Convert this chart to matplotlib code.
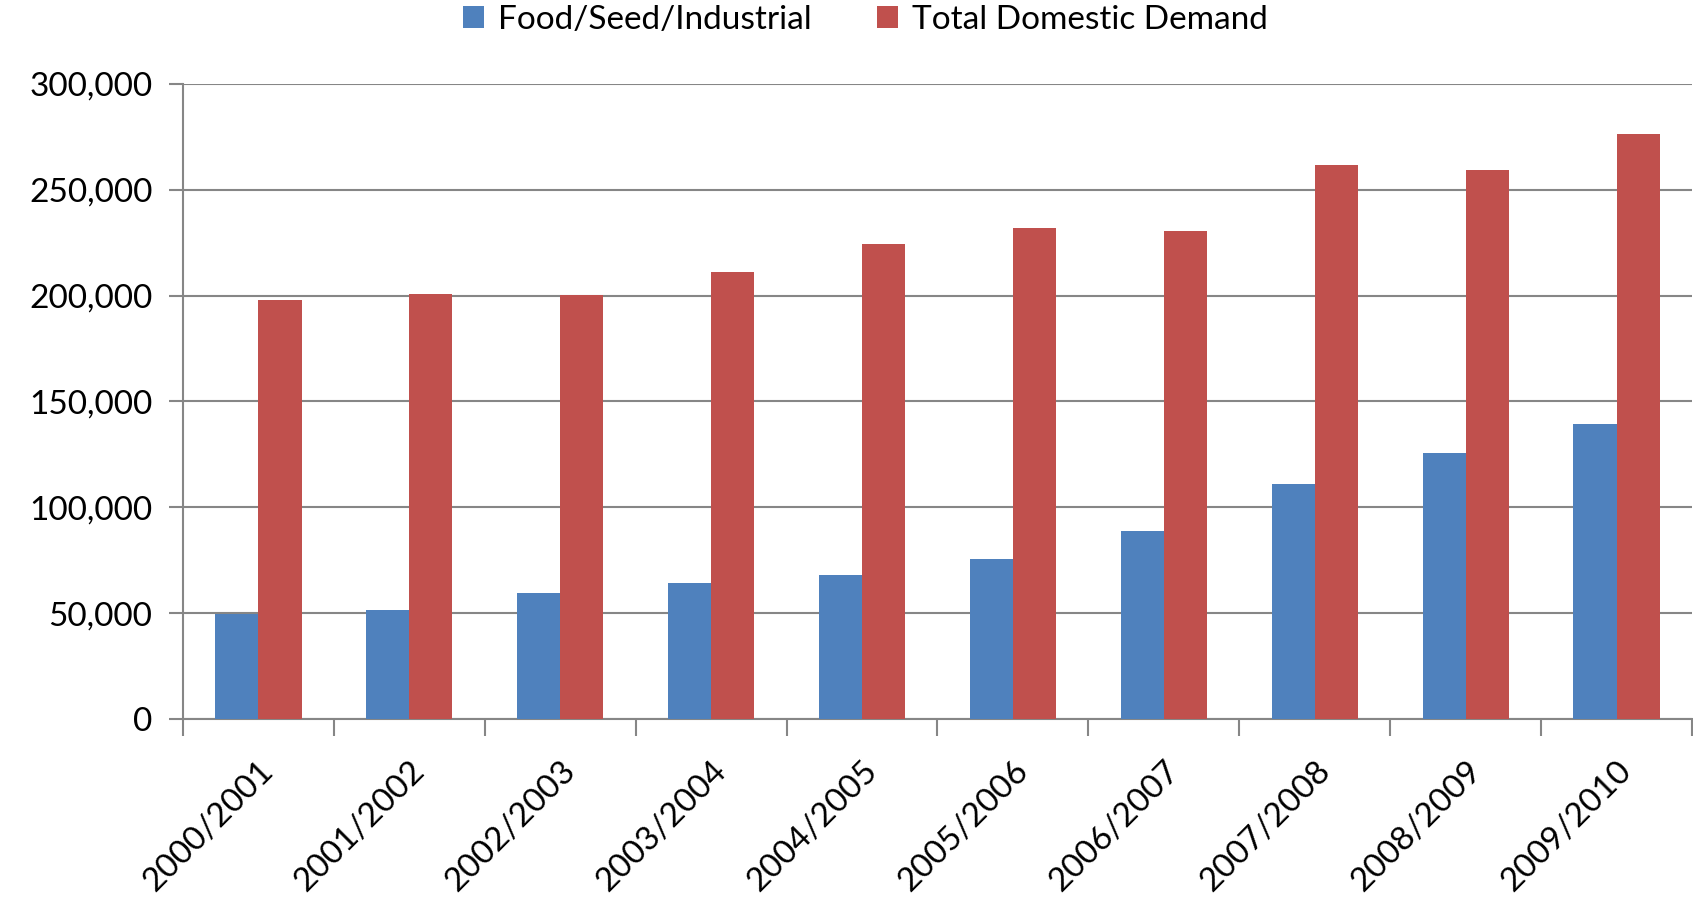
import matplotlib
matplotlib.use("Agg")
import matplotlib.pyplot as plt
import numpy as np
from matplotlib.ticker import FuncFormatter, FixedLocator

plt.rcParams['font.family'] = ['Lato', 'DejaVu Sans']

years = ["2000/2001", "2001/2002", "2002/2003", "2003/2004", "2004/2005",
         "2005/2006", "2006/2007", "2007/2008", "2008/2009", "2009/2010"]
food_seed_industrial = [49700, 51600, 59400, 64300, 68100,
                        75500, 88600, 111200, 125700, 139300]
total_domestic = [198000, 200600, 200500, 211400, 224500,
                  231900, 230700, 261500, 259200, 276300]
series_names = ["Food/Seed/Industrial", "Total Domestic Demand"]
colors = ["#4F81BD", "#C0504D"]

fig = plt.figure(figsize=(16.93, 8.98), dpi=100)
ax = fig.add_axes([0.1081, 0.1993, 0.8913, 0.7072])

x = np.arange(len(years))
w = 0.2857
ax.bar(x - w / 2, food_seed_industrial, width=w, color=colors[0], label=series_names[0], zorder=3)
ax.bar(x + w / 2, total_domestic, width=w, color=colors[1], label=series_names[1], zorder=3)

ax.set_xlim(-0.5, len(years) - 0.5)
ax.set_ylim(0, 300000)
ax.set_yticks(np.arange(0, 300001, 50000))
ax.yaxis.set_major_formatter(FuncFormatter(lambda v, p: f"{int(v):,}"))
ax.grid(axis='y', color='#868686', linewidth=1.5, zorder=0)

ax.set_xticks(x)
ax.set_xticklabels(years, rotation=45, ha='right', va='top', rotation_mode='anchor')
ax.xaxis.set_minor_locator(FixedLocator(np.arange(-0.5, len(years), 1.0)))
ax.tick_params(axis='x', which='major', length=0, pad=26, labelsize=24)
ax.tick_params(axis='x', which='minor', length=12, width=1.5, color='#868686')
ax.tick_params(axis='y', which='major', length=10, width=1.5, color='#868686', labelsize=24, pad=12)

for s in ['top', 'right']:
    ax.spines[s].set_visible(False)
for s in ['left', 'bottom']:
    ax.spines[s].set_color('#868686')
    ax.spines[s].set_linewidth(1.5)

fig.legend(loc='upper center', bbox_to_anchor=(0.511, 1.028), ncol=2, frameon=False,
           fontsize=24, handlelength=0.65, handleheight=0.65, handletextpad=0.4,
           columnspacing=1.95)

fig.savefig("out.png", dpi=100)
